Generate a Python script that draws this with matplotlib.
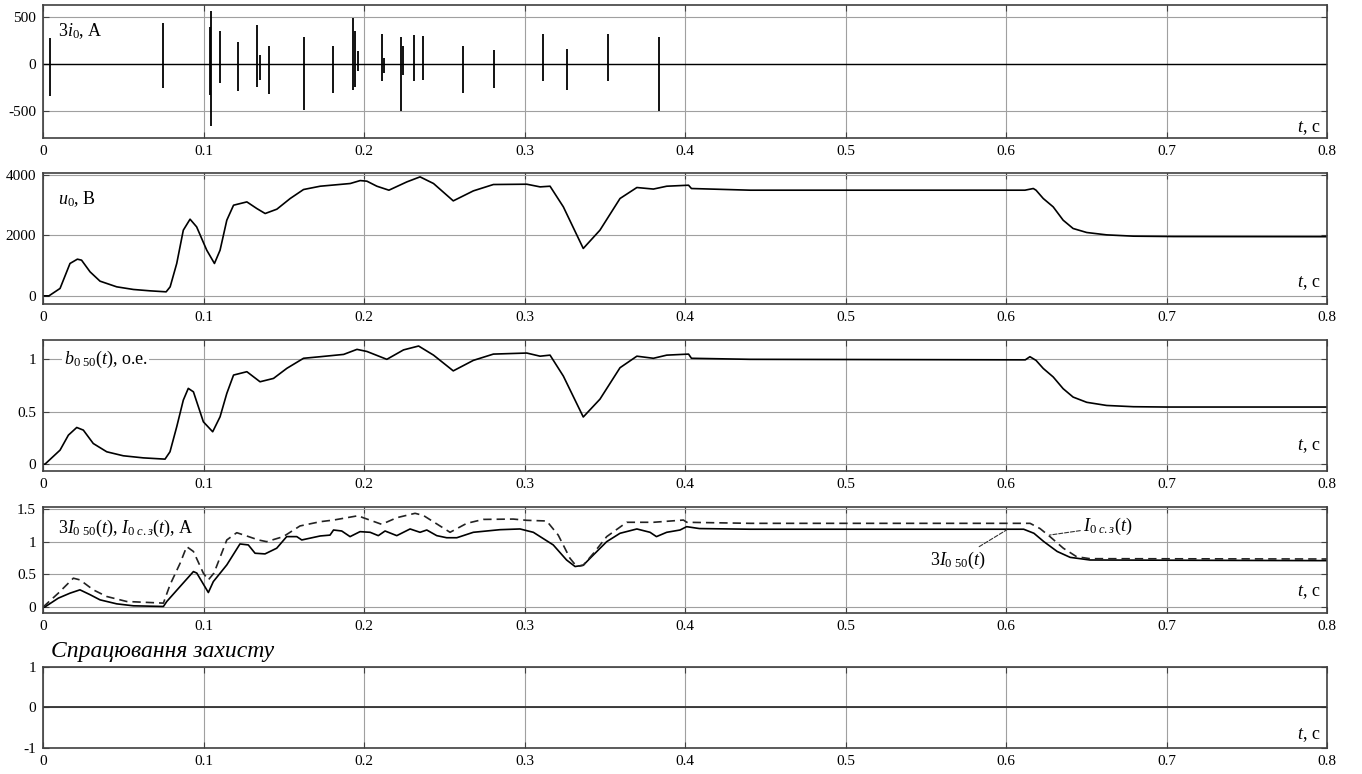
import matplotlib
matplotlib.use('Agg')
import matplotlib.pyplot as plt

plt.rcParams['font.family'] = ['Liberation Serif', 'DejaVu Serif']
plt.rcParams['mathtext.fontset'] = 'custom'
plt.rcParams['mathtext.rm'] = 'Liberation Serif'
plt.rcParams['mathtext.it'] = 'Liberation Serif:italic'
plt.rcParams['mathtext.bf'] = 'Liberation Serif:bold'

# 3i0 spikes: time, top, bottom (A)
spike_t = [0.0044, 0.0750, 0.1040, 0.1045, 0.1103, 0.1217, 0.1335, 0.1350, 0.1410,
           0.1626, 0.1809, 0.1929, 0.1946, 0.1960, 0.2110, 0.2122, 0.2231, 0.2243,
           0.2312, 0.2366, 0.2615, 0.2810, 0.3117, 0.3267, 0.3518, 0.3840]
spike_hi = [278, 438, 400, 562, 348, 235, 420, 99, 188,
            288, 188, 491, 356, 135, 320, 60, 288, 188,
            306, 302, 188, 153, 320, 160, 316, 288]
spike_lo = [-339, -256, -330, -659, -203, -293, -246, -168, -317,
            -496, -310, -282, -246, -79, -186, -100, -500, -114,
            -186, -175, -310, -256, -178, -282, -178, -500]

# u0 (V)
u_t = [0.0, 0.0037, 0.0106, 0.0168, 0.0214, 0.0240, 0.0293, 0.0355, 0.0459, 0.0563,
       0.0667, 0.0767, 0.0792, 0.0833, 0.0874, 0.0916, 0.0957, 0.1020, 0.1068, 0.1103,
       0.1145, 0.1187, 0.1270, 0.1332, 0.1384, 0.1457, 0.1540, 0.1623, 0.1727, 0.1914,
       0.1976, 0.2018, 0.2080, 0.2155, 0.2267, 0.2349, 0.2433, 0.2556, 0.2681, 0.2806,
       0.3014, 0.3097, 0.3159, 0.3242, 0.3366, 0.3470, 0.3595, 0.3700, 0.3803, 0.3886,
       0.4022, 0.4040, 0.4406, 0.6118, 0.6170, 0.6187, 0.6232, 0.6294, 0.6356, 0.6418,
       0.6503, 0.6627, 0.6794, 0.7044, 0.8]
u_v = [0, 0, 244, 1067, 1209, 1176, 791, 484, 297, 210,
       165, 132, 297, 1067, 2165, 2527, 2274, 1505, 1067, 1505,
       2494, 2988, 3097, 2878, 2714, 2857, 3209, 3505, 3614, 3703,
       3800, 3780, 3614, 3483, 3757, 3922, 3703, 3131, 3460, 3670,
       3680, 3592, 3614, 2933, 1562, 2165, 3209, 3571, 3520, 3614,
       3647, 3538, 3483, 3483, 3538, 3483, 3209, 2933, 2494, 2220,
       2088, 2010, 1967, 1955, 1950]

# b0 50 (p.u.)
b_t = [0.0, 0.0012, 0.0106, 0.0158, 0.0210, 0.0251, 0.0313, 0.0397, 0.0500, 0.0625,
       0.0760, 0.0791, 0.0833, 0.0874, 0.0905, 0.0937, 0.0999, 0.1057, 0.1103, 0.1145,
       0.1187, 0.1270, 0.1352, 0.1436, 0.1519, 0.1623, 0.1727, 0.1873, 0.1956, 0.2018,
       0.2142, 0.2246, 0.2340, 0.2433, 0.2556, 0.2681, 0.2806, 0.3014, 0.3097, 0.3159,
       0.3242, 0.3366, 0.3470, 0.3595, 0.3700, 0.3803, 0.3886, 0.4022, 0.4040, 0.4406,
       0.6120, 0.6149, 0.6187, 0.6232, 0.6294, 0.6356, 0.6418, 0.6503, 0.6627, 0.6794,
       0.7000, 0.8]
b_v = [0, 0, 0.134, 0.277, 0.35, 0.325, 0.197, 0.118, 0.08, 0.06,
       0.048, 0.118, 0.357, 0.611, 0.723, 0.69, 0.404, 0.309, 0.452, 0.675,
       0.85, 0.882, 0.786, 0.818, 0.914, 1.01, 1.025, 1.047, 1.095, 1.075,
       1.0, 1.09, 1.127, 1.04, 0.89, 0.99, 1.05, 1.06, 1.03, 1.04,
       0.84, 0.45, 0.62, 0.92, 1.03, 1.01, 1.04, 1.05, 1.01, 1.0,
       0.995, 1.025, 0.99, 0.913, 0.832, 0.72, 0.64, 0.59, 0.56, 0.548,
       0.545, 0.545]

# 3I0 50 (A), solid
i_t = [0.0, 0.001, 0.0095, 0.0168, 0.0230, 0.0293, 0.0355, 0.0459, 0.0563, 0.0750,
       0.0771, 0.0854, 0.0937, 0.0958, 0.1030, 0.1061, 0.1145, 0.1227, 0.1279, 0.1321,
       0.1383, 0.1456, 0.1518, 0.1581, 0.1612, 0.1727, 0.1788, 0.1810, 0.1861, 0.1913,
       0.1975, 0.2038, 0.2089, 0.2131, 0.2204, 0.2287, 0.2349, 0.2391, 0.2453, 0.2515,
       0.2578, 0.2681, 0.2847, 0.2972, 0.3055, 0.3179, 0.3262, 0.3315, 0.3366, 0.3418,
       0.3512, 0.3595, 0.3700, 0.3782, 0.3822, 0.3886, 0.3969, 0.4010, 0.4090, 0.4405,
       0.6110, 0.6174, 0.6236, 0.6319, 0.6400, 0.6523, 0.8]
i_v = [0, 0.0, 0.137, 0.213, 0.264, 0.19, 0.111, 0.05, 0.02, 0.01,
       0.086, 0.315, 0.543, 0.52, 0.223, 0.39, 0.645, 0.965, 0.95, 0.823,
       0.813, 0.9, 1.077, 1.077, 1.026, 1.087, 1.10, 1.178, 1.163, 1.077,
       1.153, 1.143, 1.092, 1.163, 1.092, 1.194, 1.143, 1.178, 1.092, 1.06,
       1.06, 1.143, 1.183, 1.194, 1.143, 0.95, 0.72, 0.62, 0.64, 0.77,
       1.0, 1.128, 1.194, 1.143, 1.077, 1.143, 1.178, 1.229, 1.20, 1.19,
       1.19, 1.128, 1.0, 0.85, 0.76, 0.72, 0.71]

# I0 c.z (A), dashed
s_t = [0.0, 0.0095, 0.0189, 0.0230, 0.0313, 0.0397, 0.0521, 0.0750, 0.0791, 0.0854,
       0.0895, 0.0937, 0.0999, 0.1030, 0.1065, 0.1145, 0.1207, 0.1269, 0.1342, 0.1393,
       0.1497, 0.1601, 0.1727, 0.1810, 0.1965, 0.1990, 0.2110, 0.2204, 0.2318, 0.2370,
       0.2536, 0.2640, 0.2743, 0.2930, 0.3014, 0.3138, 0.3210, 0.3283, 0.3325, 0.3366,
       0.3429, 0.3512, 0.3637, 0.3803, 0.3990, 0.4011, 0.4405, 0.6150, 0.6212, 0.6274,
       0.6357, 0.6440, 0.6523, 0.8]
s_v = [0, 0.213, 0.442, 0.416, 0.264, 0.162, 0.086, 0.061, 0.34, 0.67,
       0.924, 0.85, 0.518, 0.416, 0.52, 1.026, 1.137, 1.087, 1.026, 1.0,
       1.077, 1.24, 1.305, 1.33, 1.397, 1.37, 1.265, 1.366, 1.433, 1.40,
       1.143, 1.28, 1.34, 1.345, 1.326, 1.316, 1.10, 0.747, 0.62, 0.64,
       0.82, 1.077, 1.296, 1.296, 1.33, 1.296, 1.28, 1.28, 1.20, 1.077,
       0.9, 0.77, 0.74, 0.735]

# protection trip signal
trip_t = [0.0, 0.8]
trip_v = [0, 0]

x_ticks = [0, 0.1, 0.2, 0.3, 0.4, 0.5, 0.6, 0.7, 0.8]
x_labels = ['0', '0.1', '0.2', '0.3', '0.4', '0.5', '0.6', '0.7', '0.8']

fig = plt.figure(figsize=(13.62, 7.74), dpi=100)
L, W = 0.0316, 0.9427
boxes = [(0.8217, 0.1718), (0.6072, 0.1693), (0.3915, 0.1693), (0.208, 0.137), (0.0336, 0.1047)]
tc_pos = [0.075, 0.16, 0.19, 0.2, 0.16]
axes = [fig.add_axes([L, b, W, h]) for b, h in boxes]

def style(ax, ylim, yticks, ylabels, tc):
    ax.set_xlim(0, 0.8)
    ax.set_ylim(*ylim)
    ax.set_xticks(x_ticks)
    ax.set_xticklabels(x_labels)
    ax.set_yticks(yticks)
    ax.set_yticklabels(ylabels)
    ax.grid(True, color='#a0a0a0', linewidth=0.8)
    ax.tick_params(direction='in', length=4, labelsize=11, top=True, right=True,
                   colors='#404040', labelcolor='black', pad=5)
    for sp in ax.spines.values():
        sp.set_color('#404040')
        sp.set_linewidth(1.2)
    ax.text(0.9945, tc, r'$t$, c', transform=ax.transAxes, ha='right', va='center', fontsize=13)

ax = axes[0]
style(ax, (-790, 630), [-500, 0, 500], ['-500', '0', '500'], tc_pos[0])
ax.plot([0, 0.8], [0, 0], color='black', linewidth=1.0)
ax.vlines(spike_t, spike_lo, spike_hi, color='black', linewidth=1.3)
ax.text(0.012, 0.88, r'3$i_{\mathit{0}}$, A', transform=ax.transAxes, ha='left', va='top', fontsize=13)

ax = axes[1]
style(ax, (-270, 4050), [0, 2000, 4000], ['0', '2000', '4000'], tc_pos[1])
ax.plot(u_t, u_v, color='black', linewidth=1.2)
ax.text(0.012, 0.88, r'$u_{\mathit{0}}$, В', transform=ax.transAxes, ha='left', va='top', fontsize=13)

ax = axes[2]
style(ax, (-0.065, 1.185), [0, 0.5, 1], ['0', '0.5', '1'], tc_pos[2])
ax.plot(b_t, b_v, color='black', linewidth=1.2)
ax.text(0.016, 1.0, r'$b_{\mathit{0\ 50}}(t)$, о.е.', ha='left', va='center', fontsize=13,
        transform=ax.get_yaxis_transform(),
        bbox=dict(facecolor='white', edgecolor='none', pad=1))

ax = axes[3]
style(ax, (-0.09, 1.53), [0, 0.5, 1, 1.5], ['0', '0.5', '1', '1.5'], tc_pos[3])
ax.plot(i_t, i_v, color='black', linewidth=1.2)
ax.plot(s_t, s_v, color='#222222', linewidth=1.2, dashes=(5, 3))
ax.text(0.012, 0.9, r'3$I_{\mathit{0\ 50}}(t)$, $I_{\mathit{0\ с.з}}(t)$, A', transform=ax.transAxes,
        ha='left', va='top', fontsize=13)
ax.annotate(r'$I_{\mathit{0\ с.з}}(t)$', xy=(0.627, 1.10), xytext=(0.648, 1.23), fontsize=13,
            ha='left', va='center',
            arrowprops=dict(arrowstyle='-', linestyle='--', linewidth=0.8, color='#333333',
                            shrinkA=0, shrinkB=0))
ax.annotate(r'3$I_{\mathit{0\ 50}}(t)$', xy=(0.6004, 1.18), xytext=(0.587, 0.72), fontsize=13,
            ha='right', va='center',
            arrowprops=dict(arrowstyle='-', linestyle='--', linewidth=0.8, color='#333333',
                            shrinkA=0, shrinkB=0))

ax = axes[4]
style(ax, (-1, 1), [-1, 0, 1], ['-1', '0', '1'], tc_pos[4])
ax.plot(trip_t, trip_v, color='#303030', linewidth=1.3)
ax.text(0.006, 1.06, 'Спрацювання захисту', transform=ax.transAxes, ha='left', va='bottom',
        fontsize=17, style='italic')

fig.savefig('out.png', dpi=100)
